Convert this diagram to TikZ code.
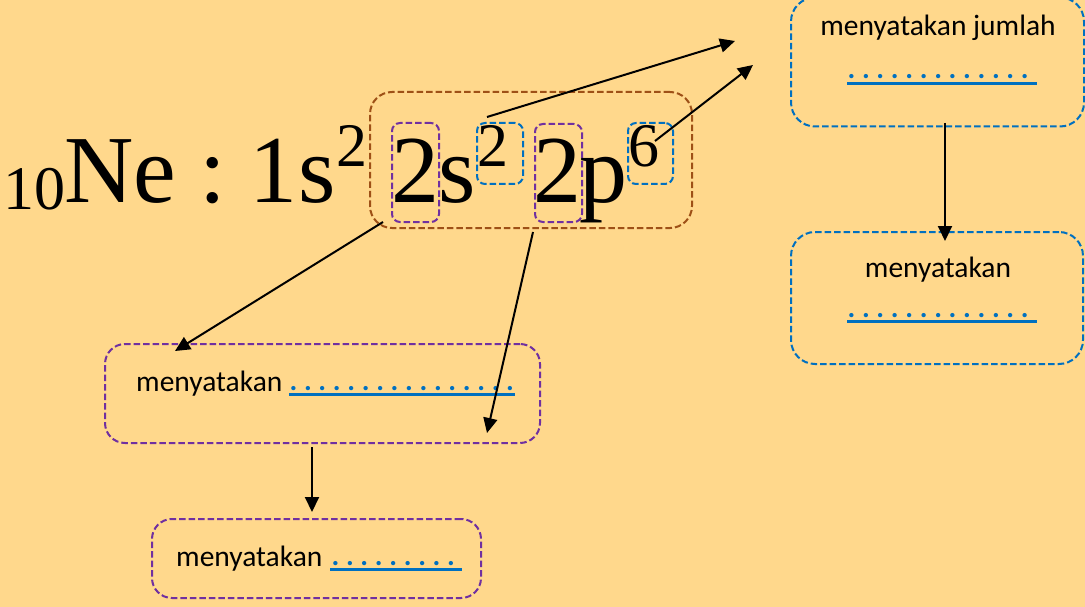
\documentclass[tikz,border=0pt]{standalone}
\usepackage{fontspec}
\setmainfont{Liberation Serif}
\newfontfamily\calib{Carlito}
\usetikzlibrary{arrows.meta}
\definecolor{bg}{RGB}{255,216,140}
\definecolor{obl}{RGB}{0,112,192}
\definecolor{opu}{RGB}{112,48,160}
\definecolor{obr}{RGB}{158,80,22}
\newcommand{\dotrow}[1]{.\foreach \i in {2,...,#1}{\kern6.7pt.}}
\begin{document}
\begin{tikzpicture}[x=1pt,y=-1pt,
  big/.style={font=\fontsize{96}{100}\selectfont, inner sep=0pt, anchor=base},
  sml/.style={font=\fontsize{62}{66}\selectfont, inner sep=0pt, anchor=base},
  lbl/.style={font=\calib\fontsize{29.5}{34}\selectfont, inner sep=0pt},
  dotsrow/.style={font=\calib\bfseries\fontsize{29}{34}\selectfont, text=obl, inner sep=0pt, anchor=base west},
  uline/.style={draw=obl, line width=3pt},
  dbox/.style={dash pattern=on 6.5pt off 3pt, line width=2pt, inner sep=0pt},
  bluebig/.style={dbox, draw=obl, rounded corners=24pt},
  purplebig/.style={dbox, draw=opu, rounded corners=20pt},
  brownbox/.style={dbox, draw=obr, rounded corners=22pt},
  bluesml/.style={dbox, draw=obl, rounded corners=8pt},
  purplesml/.style={dbox, draw=opu, rounded corners=8pt},
  arr/.style={-{Triangle[length=15pt,width=14pt]}, line width=2pt}
]
\fill[bg] (0,0) rectangle (1085,607);
\useasboundingbox (0,0) rectangle (1085,607);

% boxes
\node[brownbox, minimum width=322pt, minimum height=136pt] (orb) at (531,160) {};
\node[purplesml, minimum width=47pt, minimum height=99pt] (n1) at (415.5,172.5) {};
\node[bluesml, minimum width=46pt, minimum height=61pt] (e1) at (500,153.5) {};
\node[purplesml, minimum width=47pt, minimum height=98pt] (n2) at (558.5,173) {};
\node[bluesml, minimum width=45pt, minimum height=61pt] (e2) at (650.5,153.5) {};

\node[bluebig, minimum width=293pt, minimum height=129pt] (rt) at (937.5,62) {};
\node[bluebig, minimum width=292pt, minimum height=132pt] (rb) at (937,298) {};
\node[purplebig, minimum width=435pt, minimum height=99pt] (lt) at (322.5,393.5) {};
\node[purplebig, minimum width=329pt, minimum height=79pt] (lb) at (316.5,558.5) {};

% formula
\node[sml] (sub) at (35,209) {10};
\node[big, anchor=base west] (ne) at (64,202) {Ne};
\node[big] (col) at (212.5,202) {:};
\node[big] (one) at (273.5,202) {1};
\node[big] (s1) at (317,202) {s};
\node[sml] (p1) at (351.5,167) {2};
\node[big] (two1) at (415,202) {2};
\node[big] (s2) at (457,202) {s};
\node[sml] (p2) at (493,167) {2};
\node[big] (two2) at (557.5,202) {2};
\node[big] (pp) at (603.5,202) {p};
\node[sml] (p6) at (644,167) {6};

% labels
\node[lbl, anchor=base] (t1) at (938,36) {menyatakan jumlah};
\node[dotsrow] (d1) at (847.4,79) {\dotrow{13}};
\draw[uline] ([shift={(0,4.5)}]d1.base west) -- ([shift={(8,4.5)}]d1.base east);

\node[lbl, anchor=base] (t2) at (938,277) {menyatakan};
\node[dotsrow] (d2) at (847.4,317) {\dotrow{13}};
\draw[uline] ([shift={(0,4.5)}]d2.base west) -- ([shift={(8,4.5)}]d2.base east);

\node[lbl, anchor=base west] (t3) at (136,391) {menyatakan};
\node[dotsrow] (d3) at (289.4,390) {\dotrow{16}};
\draw[uline] ([shift={(0,4.5)}]d3.base west) -- ([shift={(0.5,4.5)}]d3.base east);

\node[lbl, anchor=base west] (t4) at (176,566) {menyatakan};
\node[dotsrow] (d4) at (331.4,565) {\dotrow{9}};
\draw[uline] ([shift={(-1,4.5)}]d4.base west) -- ([shift={(7,4.5)}]d4.base east);

% arrow ends
\coordinate (a1s) at (487,117);
\coordinate (a1e) at (735,41);
\coordinate (a2s) at (655,141);
\coordinate (a2e) at (753,65);
\coordinate (a3s) at (383,222);
\coordinate (a3e) at (175,351);
\coordinate (a4s) at (533,232);
\coordinate (a4e) at (487,433);
\coordinate (a5e) at (312,512);
\coordinate (a6e) at (945,241);

\draw[arr] (a1s) -- (a1e);
\draw[arr] (a2s) -- (a2e);
\draw[arr] (a3s) -- (a3e);
\draw[arr] (a4s) -- (a4e);
\draw[arr] (312,447) -- (a5e);
\draw[arr] (945,123) -- (a6e);
\end{tikzpicture}
\end{document}
